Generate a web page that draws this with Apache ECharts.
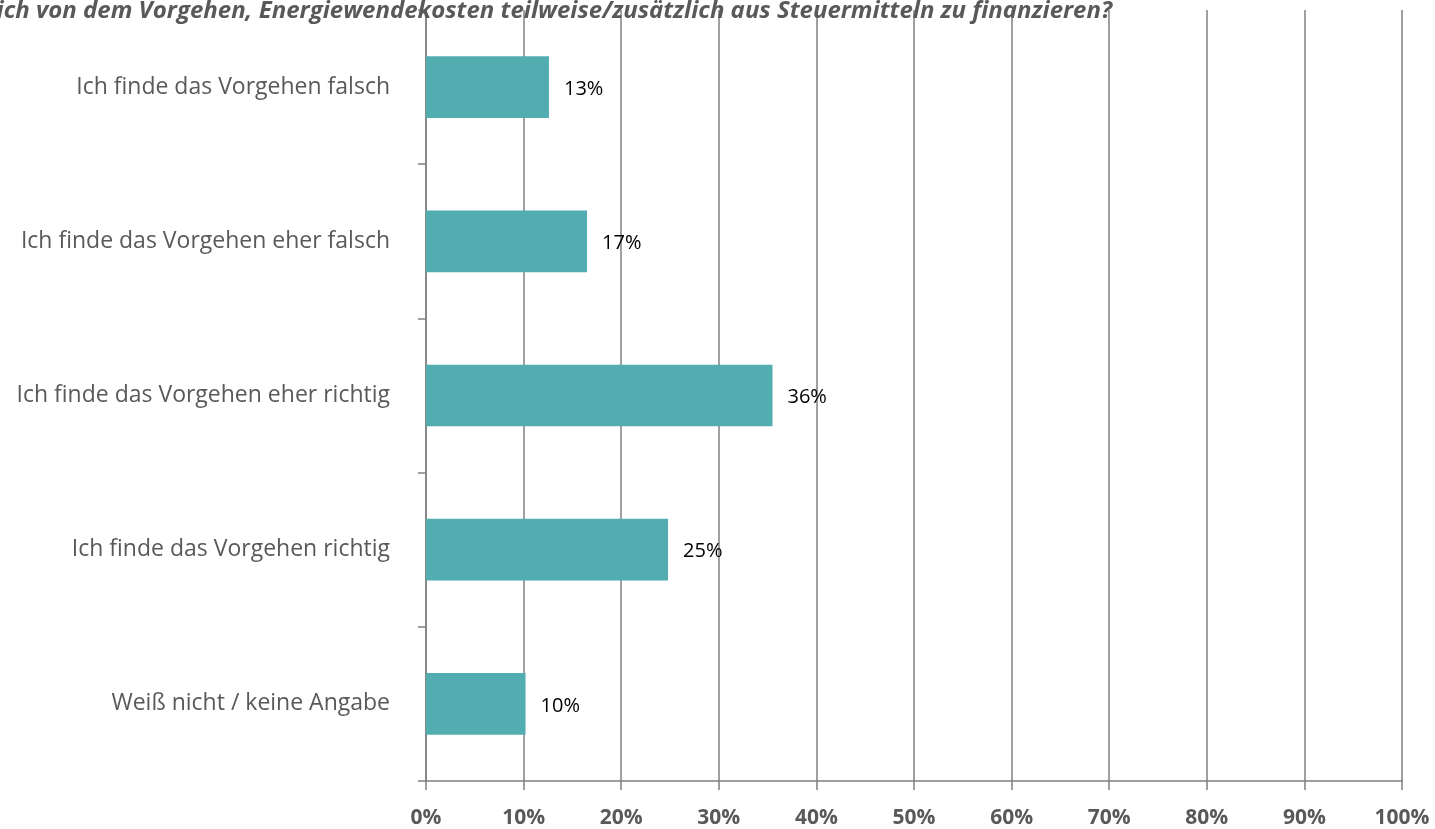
<!DOCTYPE html>
<html><head><meta charset="utf-8">
<script src="https://cdn.jsdelivr.net/npm/echarts@6/dist/echarts.min.js"></script>
<style>html,body{margin:0;padding:0;background:#fff}#c{width:1435px;height:829px}</style>
</head><body><div id="c"></div>
<script>
const titleText = 'Was halten Sie persönlich von dem Vorgehen, Energiewendekosten teilweise/zusätzlich aus Steuermitteln zu finanzieren?';
const categories = ['Ich finde das Vorgehen falsch','Ich finde das Vorgehen eher falsch','Ich finde das Vorgehen eher richtig','Ich finde das Vorgehen richtig','Weiß nicht / keine Angabe'];
const values = [12.6, 16.5, 35.5, 24.8, 10.2];
const xTicks = [0,10,20,30,40,50,60,70,80,90,100];

const chart = echarts.init(document.getElementById('c'));
chart.setOption({
  animation:false,
  title:{text:titleText,right:318,top:-6,textStyle:{fontFamily:'Open Sans',fontSize:24,fontWeight:'bold',fontStyle:'italic',color:'#595959'}},
  grid:{left:426,right:33,top:10,bottom:46,containLabel:false},
  xAxis:{type:'value',min:xTicks[0],max:xTicks[xTicks.length-1],interval:10,
    axisLine:{show:true,lineStyle:{color:'#808080',width:1.5}},
    axisTick:{show:true,length:9,lineStyle:{color:'#808080',width:1.5}},
    splitLine:{show:true,lineStyle:{color:'#808080',width:1.5}},
    axisLabel:{formatter:v=>v+'%',fontFamily:'Open Sans',fontSize:21,fontWeight:'bold',color:'#595959',margin:27}},
  yAxis:{type:'category',data:categories,inverse:true,
    axisLine:{show:true,lineStyle:{color:'#808080',width:1.5}},
    axisTick:{show:true,length:8,lineStyle:{color:'#808080',width:1.5}},
    axisLabel:{fontFamily:'Open Sans',fontSize:23,color:'#595959',margin:36}},
  series:[{type:'bar',data:values,barWidth:'40%',itemStyle:{color:'#52ADB1'},
    label:{show:true,position:'right',distance:15,offset:[0,2],formatter:p=>Math.round(p.value)+'%',fontFamily:'Open Sans',fontSize:20,color:'#000'}}]
});
</script></body></html>
